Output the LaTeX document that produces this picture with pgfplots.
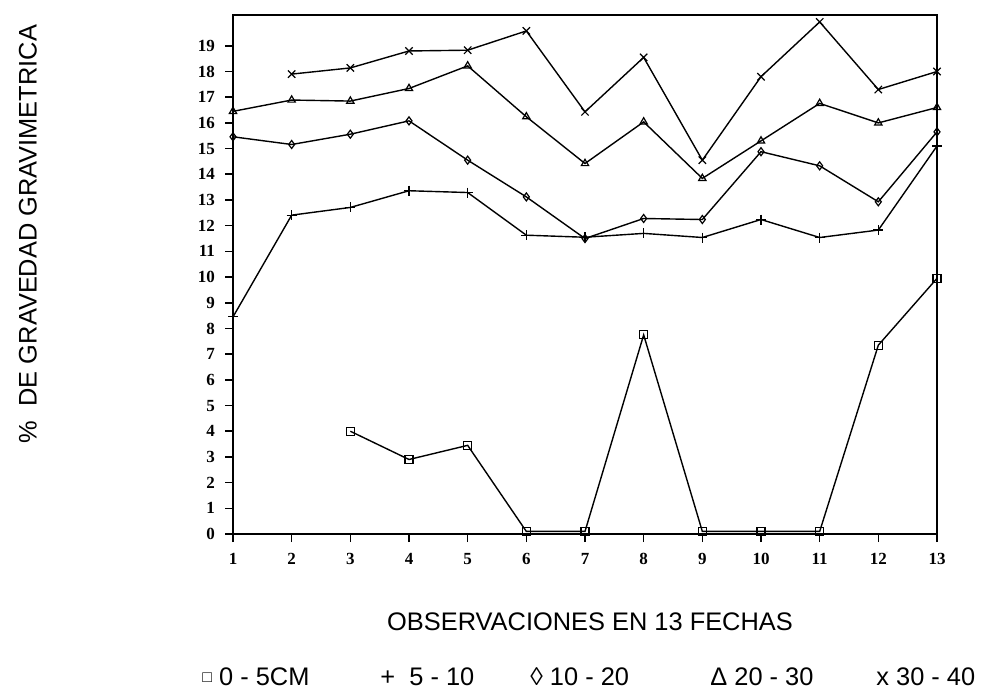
\documentclass[border=0pt]{standalone}
\usepackage{fontspec}
\setmainfont{Liberation Sans}
\newfontfamily\tickfont{Liberation Serif}
\usepackage{pgfplots}
\pgfplotsset{compat=1.18}
\begin{document}
\begin{tikzpicture}
\path[use as bounding box] (0,0) rectangle (498pt,349pt);
\begin{axis}[
  at={(116.5pt,82pt)}, anchor=south west,
  width=352pt, height=259.5pt, scale only axis,
  xmin=1, xmax=13, ymin=0, ymax=20.2,
  xtick={1,...,13}, ytick={0,...,19},
  tick align=outside, tick pos=left,
  major tick length=4pt,
  axis line style={line width=1pt},
  tick style={line width=0.8pt, black},
  ticklabel style={font=\tickfont\bfseries\fontsize{8.5}{9}\selectfont},
  xticklabel style={yshift=-2pt},
  yticklabel style={xshift=-1.5pt},
  /pgf/number format/assume math mode=true,
  every axis plot/.append style={black, line width=0.7pt, mark options={solid, line width=0.6pt}},
  clip=false,
]
% 0 - 5 cm
\addplot[mark=square, mark size=2pt] coordinates {
(3,4.0) (4,2.9) (5,3.45) (6,0.1) (7,0.1) (8,7.75) (9,0.1) (10,0.1) (11,0.1) (12,7.35) (13,9.95)};
% 5 - 10
\addplot[mark=+, mark size=2.5pt] coordinates {
(1,8.45) (2,12.41) (3,12.71) (4,13.36) (5,13.29) (6,11.63) (7,11.55) (8,11.7) (9,11.54) (10,12.24) (11,11.54) (12,11.83) (13,15.1)};
% 10 - 20
\addplot[mark=diamond, mark size=2pt] coordinates {
(1,15.46) (2,15.16) (3,15.56) (4,16.08) (5,14.55) (6,13.12) (7,11.5) (8,12.28) (9,12.24) (10,14.88) (11,14.33) (12,12.93) (13,15.65)};
% 20 - 30
\addplot[mark=triangle, mark size=2.1pt] coordinates {
(1,16.45) (2,16.89) (3,16.85) (4,17.34) (5,18.22) (6,16.24) (7,14.42) (8,16.04) (9,13.84) (10,15.3) (11,16.76) (12,16.0) (13,16.6)};
% 30 - 40
\addplot[mark=x, mark size=2.6pt] coordinates {
(2,17.9) (3,18.14) (4,18.8) (5,18.83) (6,19.58) (7,16.43) (8,18.55) (9,14.55) (10,17.8) (11,19.93) (12,17.3) (13,18.0)};
\end{axis}
\node[rotate=90, font=\fontsize{12.7}{14}\selectfont] at (14pt,232pt) {\%\ \ DE GRAVEDAD GRAVIMETRICA};
\node[anchor=base, font=\fontsize{12.7}{14}\selectfont] at (295pt,33.7pt) {OBSERVACIONES EN 13 FECHAS};
\begin{scope}[every node/.style={anchor=base west, font=\fontsize{12.7}{14}\selectfont, inner sep=0pt}]
\node at (101pt,6.2pt) {{\fontsize{8}{9}\selectfont\raisebox{1.5pt}{□}} 0 - 5CM};
\node at (190pt,6.2pt) {+\ \ 5 - 10};
\node at (265pt,6.2pt) {◊ 10 - 20};
\node at (355pt,6.2pt) {Δ 20 - 30};
\node at (438pt,6.2pt) {x 30 - 40};
\end{scope}
\end{tikzpicture}
\end{document}
